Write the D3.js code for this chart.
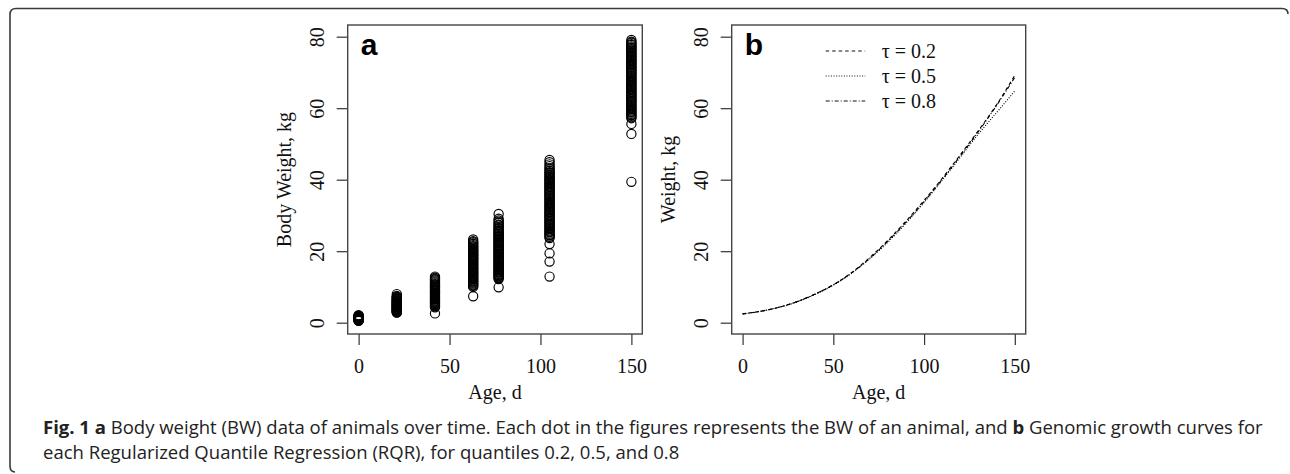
<!DOCTYPE html>
<html>
<head>
<meta charset="utf-8">
<script src="https://cdn.jsdelivr.net/npm/d3@7"></script>
<style>
  body { margin: 0; background: #fff; }
  svg { display: block; }
</style>
</head>
<body>
<div class="canvas"></div>
<script>
// ---- data ----
const ages = [0, 21, 42, 63, 77, 105, 150];
// body weights, one array per age
const bw0 = [0.5, 0.6, 0.7, 0.8, 0.8, 0.9, 1.0, 1.1, 1.1, 1.2, 1.3, 1.3, 1.4, 1.5, 1.6, 1.6, 1.7, 1.8, 1.9, 2.0, 1.2, 1.4, 1.0, 2.1];
const bw21 = [2.8, 2.9, 3.0, 3.2, 3.3, 3.3, 3.5, 3.6, 3.8, 3.9, 4.0, 4.0, 4.2, 4.3, 4.5, 4.6, 4.6, 4.8, 4.9, 5.1, 5.2, 5.3, 5.4, 5.6, 5.7, 5.8, 6.0, 6.1, 6.2, 6.4, 6.5, 6.7, 6.8, 7.0, 7.2, 7.3, 7.5, 8.0];
const bw42 = [2.6, 4.3, 4.6, 4.8, 5.0, 5.3, 5.5, 5.7, 6.0, 6.2, 6.5, 6.6, 6.9, 7.2, 7.3, 7.6, 7.8, 8.1, 8.3, 8.4, 8.7, 9.0, 9.1, 9.4, 9.7, 9.9, 10.1, 10.3, 10.6, 10.8, 11.0, 11.3, 11.5, 11.8, 12.1, 12.3, 12.6, 12.9];
const bw63 = [7.4, 10.0, 10.3, 10.5, 10.7, 11.0, 11.2, 11.5, 11.6, 11.9, 12.2, 12.3, 12.6, 12.9, 13.0, 13.3, 13.6, 13.7, 14.0, 14.2, 14.5, 14.7, 14.9, 15.2, 15.4, 15.6, 15.9, 16.2, 16.3, 16.6, 16.8, 17.1, 17.3, 17.5, 17.8, 18.0, 18.1, 18.4, 18.7, 18.9, 19.1, 19.4, 19.6, 19.9, 20.0, 20.3, 20.6, 20.7, 21.0, 21.3, 21.4, 21.7, 22.0, 22.2, 22.5, 22.8, 23.3];
const bw77 = [9.9, 12.2, 12.5, 12.7, 13.0, 13.2, 13.4, 13.7, 14.0, 14.1, 14.4, 14.7, 14.9, 15.1, 15.4, 15.6, 15.8, 16.1, 16.3, 16.6, 16.8, 17.0, 17.2, 17.5, 17.8, 18.0, 18.2, 18.4, 18.7, 19.0, 19.2, 19.4, 19.7, 19.9, 20.1, 20.4, 20.7, 20.8, 21.1, 21.4, 21.6, 21.8, 22.1, 22.4, 22.5, 22.8, 23.1, 23.3, 23.5, 23.8, 24.0, 24.2, 24.5, 24.8, 24.9, 25.2, 25.5, 25.7, 25.9, 26.3, 26.5, 26.8, 27.2, 27.4, 27.9, 28.2, 28.6, 29.1, 30.4];
const bw105 = [12.9, 17.1, 19.4, 22.0, 23.7, 24.0, 24.4, 24.6, 24.9, 25.3, 25.5, 25.8, 26.2, 26.4, 26.7, 27.1, 27.3, 27.6, 28.0, 28.2, 28.5, 28.9, 29.1, 29.4, 29.8, 30.0, 30.3, 30.7, 30.9, 31.2, 31.6, 31.8, 32.1, 32.5, 32.7, 33.0, 33.4, 33.6, 33.9, 34.3, 34.5, 34.8, 35.2, 35.4, 35.7, 36.1, 36.3, 36.6, 37.0, 37.2, 37.5, 37.9, 38.1, 38.4, 38.8, 39.0, 39.3, 39.7, 39.9, 40.2, 40.6, 40.8, 41.1, 41.5, 41.8, 42.1, 42.5, 42.9, 43.3, 43.8, 44.3, 44.9, 45.5];
const bw150 = [39.4, 52.8, 55.6, 57.2, 57.5, 57.9, 58.1, 58.4, 58.8, 59.0, 59.3, 59.7, 59.9, 60.2, 60.6, 60.8, 61.1, 61.5, 61.7, 62.0, 62.4, 62.6, 62.9, 63.3, 63.5, 63.8, 64.2, 64.4, 64.7, 65.1, 65.3, 65.6, 66.0, 66.2, 66.5, 66.9, 67.1, 67.4, 67.8, 68.0, 68.3, 68.7, 68.9, 69.2, 69.6, 69.8, 70.1, 70.5, 70.7, 71.0, 71.4, 71.6, 71.9, 72.3, 72.5, 72.8, 73.2, 73.4, 73.7, 74.1, 74.3, 74.6, 75.0, 75.2, 75.5, 75.9, 76.1, 76.4, 76.8, 77.0, 77.3, 77.7, 77.9, 78.3, 78.6, 79.1];
const bwByAge = [bw0, bw21, bw42, bw63, bw77, bw105, bw150];

// growth curves
const curveAge = [0, 10, 20, 30, 40, 50, 60, 70, 80, 90, 100, 110, 120, 130, 140, 150];
const q20 = [2.5, 3.2, 4.3, 5.9, 8.0, 10.6, 14.0, 18.2, 23.0, 28.4, 34.2, 40.4, 47.0, 53.8, 61.0, 69.2];
const q50 = [2.5, 3.2, 4.3, 5.8, 7.9, 10.5, 13.8, 17.8, 22.5, 27.8, 33.6, 39.8, 46.3, 52.8, 58.8, 64.8];
const q80 = [2.4, 3.2, 4.3, 5.9, 8.0, 10.6, 13.9, 18.0, 22.8, 28.1, 33.9, 40.1, 46.7, 53.5, 60.8, 68.6];
const tauLabels = ['τ = 0.2', 'τ = 0.5', 'τ = 0.8'];

const xTicks = [0, 50, 100, 150];
const yTicks = [0, 20, 40, 60, 80];

// ---- layout ----
const dims = { width: 1290, height: 474 };
const plotTop = 25, plotBottom = 334;
const serif = '"Liberation Serif", "Times New Roman", serif';

const svg = d3.select('.canvas')
  .append('svg')
  .attr('width', dims.width)
  .attr('height', dims.height);

// figure frame (only top and left edges show)
svg.append('path')
  .attr('d', 'M1288,14 Q1288,8.5 1282,8.5 L16,8.5 Q10,8.5 10,14.5 L10,466 Q10,472 15,472')
  .attr('fill', 'none')
  .attr('stroke', '#3a3a3a')
  .attr('stroke-width', 1.6);

// shared scale helpers
const makeX = (left, right) => d3.scaleLinear().domain([-6, 156]).range([left, right]);
const y = d3.scaleLinear().domain([-3.16, 83.27]).range([plotBottom, plotTop]);

const drawFrame = (g, x, yTitle, letter) => {
  const left = x.range()[0], right = x.range()[1];

  // x axis
  const xAxis = d3.axisBottom(x).tickValues(xTicks).tickSize(11).tickSizeOuter(0).tickPadding(13.3);
  const gx = g.append('g')
    .attr('transform', `translate(0, ${plotBottom})`)
    .call(xAxis);
  gx.select('.domain').remove();

  // y axis, labels parallel to axis
  const yAxis = d3.axisLeft(y).tickValues(yTicks).tickSize(11).tickSizeOuter(0);
  const gy = g.append('g')
    .attr('transform', `translate(${left}, 0)`)
    .call(yAxis);
  gy.select('.domain').remove();
  gy.selectAll('.tick text')
    .attr('transform', 'rotate(-90)')
    .attr('x', 0)
    .attr('y', -31)
    .attr('dy', '0.35em')
    .attr('text-anchor', 'middle');

  g.selectAll('.tick line').attr('stroke', '#333').attr('stroke-width', 1.2);
  g.selectAll('.tick text')
    .attr('fill', '#111')
    .attr('font-family', serif)
    .attr('font-size', 20);

  // box
  g.append('rect')
    .attr('x', left).attr('y', plotTop)
    .attr('width', right - left).attr('height', plotBottom - plotTop)
    .attr('fill', 'none')
    .attr('stroke', '#444')
    .attr('stroke-width', 1.4);

  // axis titles
  g.append('text')
    .attr('x', (left + right) / 2)
    .attr('y', 399)
    .attr('text-anchor', 'middle')
    .attr('font-family', serif)
    .attr('font-size', 20)
    .attr('fill', '#111')
    .text('Age, d');

  g.append('text')
    .attr('transform', `translate(${left - 63.5}, ${(plotTop + plotBottom) / 2}) rotate(-90)`)
    .attr('dy', '0.35em')
    .attr('text-anchor', 'middle')
    .attr('font-family', serif)
    .attr('font-size', 20)
    .attr('fill', '#111')
    .text(yTitle);

  // panel letter
  g.append('text')
    .attr('x', left + 13)
    .attr('y', 55)
    .attr('font-family', '"Liberation Sans", Arial, sans-serif')
    .attr('font-weight', 'bold')
    .attr('font-size', 30)
    .attr('fill', '#000')
    .text(letter);
};

// ---- panel a: scatter ----
const xa = makeX(347.7, 642.3);
const ga = svg.append('g');
drawFrame(ga, xa, 'Body Weight, kg', 'a');

const points = [];
ages.forEach((age, i) => bwByAge[i].forEach(w => points.push({ age, w })));

ga.append('g')
  .selectAll('circle')
  .data(points)
  .enter()
  .append('circle')
    .attr('cx', d => xa(d.age))
    .attr('cy', d => y(d.w))
    .attr('r', 4.6)
    .attr('fill', 'none')
    .attr('stroke', '#000')
    .attr('stroke-width', 1.15);

// ---- panel b: growth curves ----
const xb = makeX(731.7, 1025.7);
const gb = svg.append('g');
drawFrame(gb, xb, 'Weight, kg', 'b');

const series = [
  { name: tauLabels[0], values: q20, dash: '3.5,3' },
  { name: tauLabels[1], values: q50, dash: '1,1.6' },
  { name: tauLabels[2], values: q80, dash: '4,2,1,2' }
];

const line = d3.line()
  .x((d, i) => xb(curveAge[i]))
  .y(d => y(d))
  .curve(d3.curveMonotoneX);

gb.append('g')
  .selectAll('path')
  .data(series)
  .enter()
  .append('path')
    .attr('d', d => line(d.values))
    .attr('fill', 'none')
    .attr('stroke', '#000')
    .attr('stroke-width', 1.1)
    .attr('stroke-dasharray', d => d.dash);

// legend
const legend = gb.append('g')
  .selectAll('g')
  .data(series)
  .enter()
  .append('g')
    .attr('transform', (d, i) => `translate(825.7, ${51 + i * 25})`);

legend.append('line')
  .attr('x1', 0).attr('x2', 39.5)
  .attr('stroke', '#111')
  .attr('stroke-width', 1)
  .attr('stroke-dasharray', d => d.dash);

legend.append('text')
  .attr('x', 56)
  .attr('y', 7.3)
  .attr('font-family', serif)
  .attr('font-size', 20)
  .attr('fill', '#111')
  .text(d => d.name);

// ---- caption ----
const caption = svg.append('g')
  .attr('font-family', '"Open Sans", "Noto Sans", sans-serif')
  .attr('font-size', 16)
  .attr('fill', '#222');

const line1 = caption.append('text').attr('x', 43).attr('y', 434);
line1.append('tspan').attr('font-weight', 'bold').text('Fig. 1 a');
line1.append('tspan').text(' Body weight (BW) data of animals over time. Each dot in the figures represents the BW of an animal, and ');
line1.append('tspan').attr('font-weight', 'bold').text('b');
line1.append('tspan').text(' Genomic growth curves for');

caption.append('text').attr('x', 43).attr('y', 459)
  .text('each Regularized Quantile Regression (RQR), for quantiles 0.2, 0.5, and 0.8');

// fit the first caption line to its width in the figure
const len1 = line1.node().getComputedTextLength();
caption.attr('font-size', 16 * 1220 / len1);
</script>
</body>
</html>
